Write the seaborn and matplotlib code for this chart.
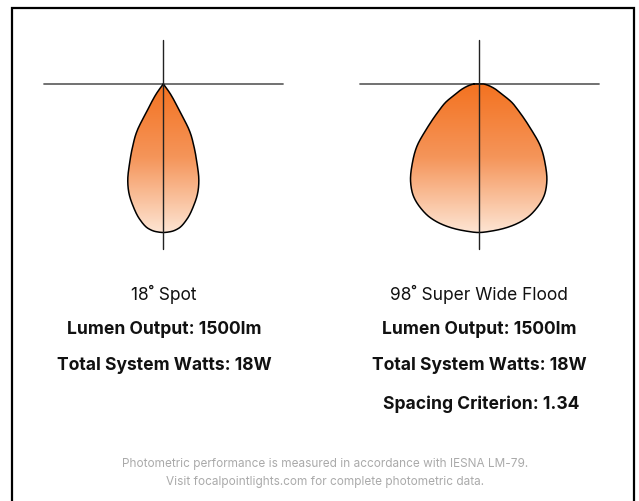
import numpy as np
import matplotlib
matplotlib.use("Agg")
import matplotlib.pyplot as plt
from matplotlib.patches import Polygon
from matplotlib.colors import LinearSegmentedColormap
import seaborn as sns

# Beam data: half-angle from nadir (deg) vs relative intensity (1.0 = peak)
spot_angles = [0, 3, 6, 10, 14, 17.7, 20.5, 23.2, 26.3, 29.5, 31.3, 33.5, 36, 38]
spot_intensity = [1.00, 0.995, 0.978, 0.923, 0.845, 0.765, 0.683, 0.574,
                  0.463, 0.348, 0.20, 0.13, 0.07, 0.0]

flood_angles = [0, 5, 10, 15, 20, 25, 30, 35, 40, 45, 49, 52, 56, 61, 66,
                72, 78, 84, 90]
flood_intensity = [1.00, 0.994, 0.987, 0.976, 0.957, 0.923, 0.876, 0.80,
                   0.695, 0.585, 0.47, 0.40, 0.325, 0.255, 0.175, 0.125,
                   0.085, 0.055, 0.032]

beam_names = ["18˚ Spot", "98˚ Super Wide Flood"]
lumen_text = ["Lumen Output: 1500lm", "Lumen Output: 1500lm"]
watts_text = ["Total System Watts: 18W", "Total System Watts: 18W"]
spacing_text = ["", "Spacing Criterion: 1.34"]
footnote = ["Photometric performance is measured in accordance with IESNA LM-79.",
            "Visit focalpointlights.com for complete photometric data."]

sns.set_style("white")
plt.rcParams['font.family'] = ['Inter', 'DejaVu Sans']


def pchip(xk, yk, x):
    # monotone cubic interpolation, flat slope at nadir
    xk = np.asarray(xk, float)
    yk = np.asarray(yk, float)
    h = np.diff(xk)
    d = np.diff(yk) / h
    m = np.zeros_like(yk)
    for k in range(1, len(xk) - 1):
        if d[k - 1] * d[k] > 0:
            w1 = 2 * h[k] + h[k - 1]
            w2 = h[k] + 2 * h[k - 1]
            m[k] = (w1 + w2) / (w1 / d[k - 1] + w2 / d[k])
    m[-1] = d[-1]
    i = np.clip(np.searchsorted(xk, x) - 1, 0, len(h) - 1)
    t = (x - xk[i]) / h[i]
    return ((2 * t**3 - 3 * t**2 + 1) * yk[i] + (t**3 - 2 * t**2 + t) * h[i] * m[i]
            + (-2 * t**3 + 3 * t**2) * yk[i + 1] + (t**3 - t**2) * h[i] * m[i + 1])


fig = plt.figure(figsize=(6.39, 5.02), dpi=100)
ax = fig.add_axes([0, 0, 1, 1])
ax.set_xlim(0, 639)
ax.set_ylim(502, 0)
ax.axis('off')

# frame (open at the bottom)
ax.plot([12, 12, 634, 634], [502, 9, 9, 502], color='black', lw=1.6,
        solid_joinstyle='miter')

cmap = LinearSegmentedColormap.from_list('beam', ['#f37220', '#f5955a', '#fde4d2'])
length = 148.5
apex_y = 85


def draw_beam(cx, angles, inten):
    a = np.linspace(-angles[-1], angles[-1], 800)
    r = pchip(angles, inten, np.abs(a)) * length
    xs = cx + r * np.sin(np.radians(a))
    ys = apex_y + r * np.cos(np.radians(a))
    # crosshair
    ax.plot([cx - 119, cx + 120], [apex_y, apex_y], color='#666666', lw=1.3, zorder=1)
    # gradient fill
    poly = Polygon(np.column_stack([xs, ys]), closed=True, fc='none', ec='none')
    ax.add_patch(poly)
    grad = np.linspace(0, 1, 256).reshape(-1, 1)
    im = ax.imshow(grad, cmap=cmap, aspect='auto', origin='upper',
                   extent=[xs.min(), xs.max(), apex_y + length, apex_y], zorder=2)
    im.set_clip_path(poly)
    sns.lineplot(x=np.append(xs, xs[0]), y=np.append(ys, ys[0]), sort=False,
                 estimator=None, color='black', lw=1.1, ax=ax, zorder=3)
    ax.plot([cx, cx], [41, 250], color='#222222', lw=1.0, zorder=4)


draw_beam(163.3, spot_angles, spot_intensity)
draw_beam(478.7, flood_angles, flood_intensity)
ax.set_xlim(0, 639)
ax.set_ylim(502, 0)

centers = [164, 479]
for i, cx in enumerate(centers):
    ax.text(cx, 294, beam_names[i], ha='center', va='center', fontsize=12.5,
            color='#111111')
    ax.text(cx, 330, lumen_text[i], ha='center', va='center', fontsize=12.6,
            fontweight='bold', color='#111111')
    ax.text(cx, 366, watts_text[i], ha='center', va='center', fontsize=12.6,
            fontweight='bold', color='#111111')
    if spacing_text[i]:
        ax.text(cx + 2, 404, spacing_text[i], ha='center', va='center',
                fontsize=12.6, fontweight='bold', color='#111111')

ax.text(325, 464, footnote[0], ha='center', va='center', fontsize=8.5, color='#aaaaaa')
ax.text(325, 482, footnote[1], ha='center', va='center', fontsize=8.5, color='#aaaaaa')

fig.savefig('out.png', dpi=100, facecolor='white')
